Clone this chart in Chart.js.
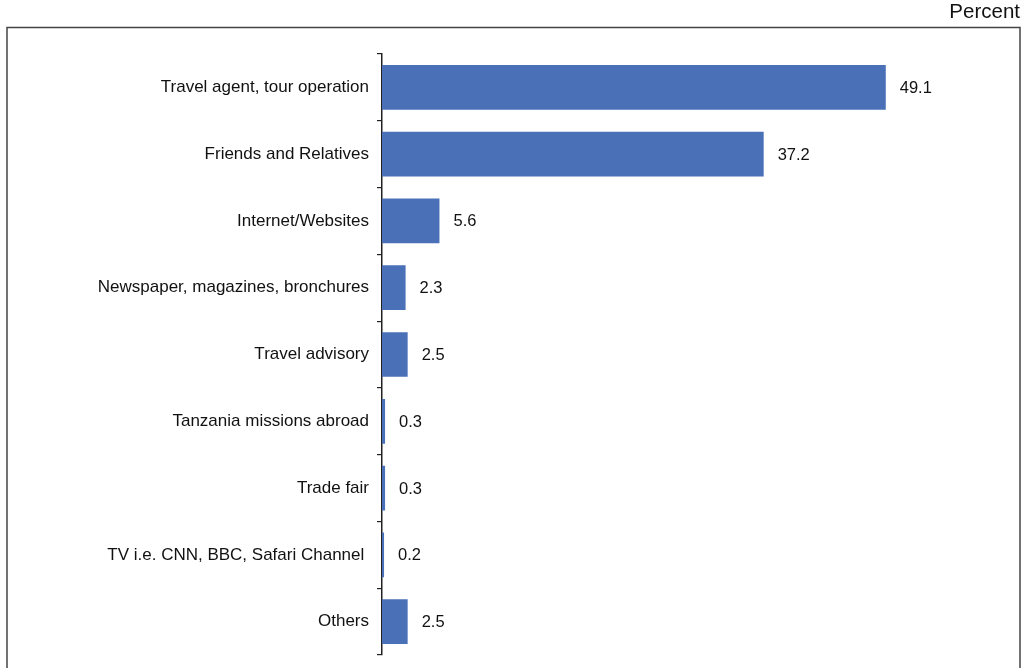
<!DOCTYPE html>
<html><head><meta charset="utf-8">
<script src="https://cdn.jsdelivr.net/npm/chart.js@4/dist/chart.umd.min.js"></script>
<style>html,body{margin:0;padding:0;background:#fff;}#wrap{width:1029px;height:668px;position:relative;}</style>
</head><body><div id="wrap"><canvas id="c" width="1029" height="668"></canvas></div>
<script>
const categories = ["Travel agent, tour operation","Friends and Relatives","Internet/Websites","Newspaper, magazines, bronchures","Travel advisory","Tanzania missions abroad","Trade fair","TV i.e. CNN, BBC, Safari Channel ","Others"];
const values = [49.1, 37.2, 5.6, 2.3, 2.5, 0.3, 0.3, 0.2, 2.5];
const unitLabel = "Percent";
const FONT = "'Liberation Sans', Arial, Helvetica, sans-serif";

const framePlugin = {
  id: 'frame',
  beforeDraw(chart) {
    const ctx = chart.ctx;
    ctx.save();
    ctx.fillStyle = '#fff';
    ctx.fillRect(0, 0, chart.width, chart.height);
    ctx.strokeStyle = '#444';
    ctx.lineWidth = 1.5;
    ctx.beginPath();
    ctx.moveTo(7, 700); ctx.lineTo(7, 27.5); ctx.lineTo(1020, 27.5); ctx.lineTo(1020, 700);
    ctx.stroke();
    ctx.fillStyle = '#111';
    ctx.font = "20.5px " + FONT;
    ctx.textAlign = 'right';
    ctx.textBaseline = 'middle';
    ctx.fillText(unitLabel, 1020, 12);
    ctx.restore();
  },
  afterDatasetsDraw(chart) {
    const ctx = chart.ctx;
    const meta = chart.getDatasetMeta(0);
    ctx.save();
    ctx.fillStyle = '#111';
    ctx.font = "16.5px " + FONT;
    ctx.textAlign = 'left';
    ctx.textBaseline = 'middle';
    meta.data.forEach((bar, i) => {
      ctx.fillText(values[i].toFixed(1), bar.x + 14, bar.y + 1);
    });
    ctx.restore();
  }
};

new Chart(document.getElementById('c'), {
  type: 'bar',
  data: { labels: categories, datasets: [{ data: values, backgroundColor: '#4a71b7', borderWidth: 0, categoryPercentage: 1, barPercentage: 0.67 }] },
  options: {
    indexAxis: 'y',
    responsive: false,
    animation: false,
    layout: { padding: { left: 0, top: 54, bottom: 13, right: 31.4 } },
    plugins: { legend: { display: false }, tooltip: { enabled: false } },
    scales: {
      x: { display: false, min: 0, max: 60 },
      y: {
        afterFit(s) { s.width = 382; s.paddingTop = 0; s.paddingBottom = 0; },
        border: { display: true, color: '#222', width: 1.5 },
        grid: { display: true, drawOnChartArea: false, drawTicks: true, tickLength: 5, color: '#222', lineWidth: 1.2, offset: true },
        ticks: { color: '#111', font: { family: FONT, size: 17 }, padding: 8 }
      }
    }
  },
  plugins: [framePlugin]
});
</script></body></html>
